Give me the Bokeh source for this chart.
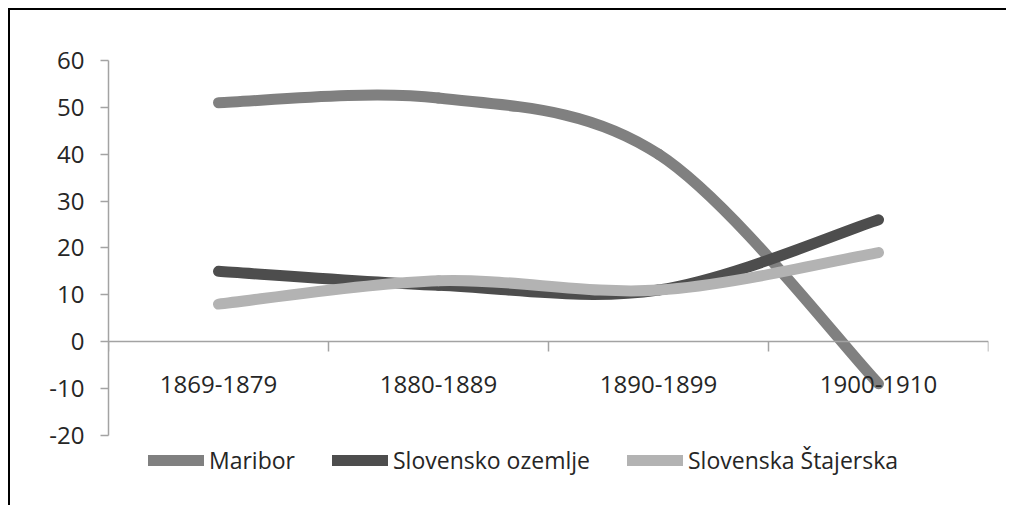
from bokeh.plotting import figure
from bokeh.models import (Range1d, LinearAxis, FixedTicker, Legend, LegendItem, ColumnDataSource)
from bokeh.embed import file_html
from bokeh.resources import INLINE

# ---- data ----
periods = ["1869-1879", "1880-1889", "1890-1899", "1900-1910"]
maribor = [51, 52, 40, -9]
slovensko_ozemlje = [15, 12, 11, 26]
slovenska_stajerska = [8, 13, 11, 19]
series_names = ["Maribor", "Slovensko ozemlje", "Slovenska Štajerska"]
y_ticks = [-20, -10, 0, 10, 20, 30, 40, 50, 60]

series_values = [maribor, slovensko_ozemlje, slovenska_stajerska]
series_colors = ["#808080", "#4d4d4d", "#b3b3b3"]

FONT = "Open Sans"
TEXT = "#262626"
AXIS = "#a3a3a3"

n_cat = len(periods)
centers = [i + 0.5 for i in range(n_cat)]


def smooth_segments(values):
    """Excel-like smoothed line: cubic bezier segments, control points at 1/6 of neighbour span."""
    n = len(values)
    pts = list(zip(centers, values))
    d = dict(x0=[], y0=[], x1=[], y1=[], cx0=[], cy0=[], cx1=[], cy1=[])
    for i in range(n - 1):
        pp = pts[i - 1] if i > 0 else pts[i]
        p0 = pts[i]
        p1 = pts[i + 1]
        pn = pts[i + 2] if i + 2 < n else pts[i + 1]
        d["x0"].append(p0[0]); d["y0"].append(p0[1])
        d["x1"].append(p1[0]); d["y1"].append(p1[1])
        d["cx0"].append(p0[0] + (p1[0] - pp[0]) / 6.0)
        d["cy0"].append(p0[1] + (p1[1] - pp[1]) / 6.0)
        d["cx1"].append(p1[0] - (pn[0] - p0[0]) / 6.0)
        d["cy1"].append(p1[1] - (pn[1] - p0[1]) / 6.0)
    return ColumnDataSource(d)


p = figure(width=998, height=497,
           x_range=Range1d(0, n_cat),
           y_range=Range1d(-32, 60),
           x_axis_location=None, y_axis_location=None,
           output_backend="svg", toolbar_location=None,
           min_border_left=98, min_border_top=50, min_border_right=20, min_border_bottom=16)
p.outline_line_color = None
p.grid.visible = False
p.styles = {"margin-left": "8px", "margin-top": "8px",
            "border-top": "2px solid #000000", "border-left": "2px solid #000000"}

# y axis
yax = LinearAxis(ticker=FixedTicker(ticks=y_ticks), bounds=(-20, 60),
                 major_label_overrides={t: str(t) for t in y_ticks},
                 axis_line_color=AXIS, axis_line_width=1.5,
                 major_tick_line_color=AXIS, major_tick_line_width=1.5,
                 major_tick_out=8, major_tick_in=0, minor_tick_line_color=None,
                 major_label_text_font=FONT, major_label_text_font_size="24px",
                 major_label_text_color=TEXT, major_label_standoff=16)
p.add_layout(yax, "left")

# category boundary ticks on the zero line
xnum = LinearAxis(ticker=FixedTicker(ticks=list(range(n_cat + 1))),
                  fixed_location=0, axis_line_color=AXIS, axis_line_width=1.5,
                  major_tick_line_color=AXIS, major_tick_line_width=1.5,
                  major_tick_out=10, major_tick_in=0, minor_tick_line_color=None,
                  major_label_text_color=None)
p.add_layout(xnum, "below")

# category labels
xcat = LinearAxis(ticker=FixedTicker(ticks=centers), fixed_location=0,
                  major_label_overrides={c: lab for c, lab in zip(centers, periods)},
                  axis_line_color=None, major_tick_line_color=None, minor_tick_line_color=None,
                  major_tick_out=0, major_tick_in=0,
                  major_label_text_font=FONT, major_label_text_font_size="24px",
                  major_label_text_color=TEXT, major_label_standoff=34)
p.add_layout(xcat, "below")

items = []
for name, vals, col in zip(series_names, series_values, series_colors):
    src = smooth_segments(vals)
    r = p.bezier(x0="x0", y0="y0", x1="x1", y1="y1", cx0="cx0", cy0="cy0", cx1="cx1", cy1="cy1",
                 source=src, line_color=col, line_width=11, line_cap="round")
    items.append(LegendItem(label=name, renderers=[r]))

legend = Legend(items=items, location=(40, 15), orientation="horizontal",
                glyph_width=56, glyph_height=26, label_height=26, label_standoff=5,
                spacing=37, padding=0, margin=0,
                border_line_color=None, background_fill_alpha=0,
                label_text_font=FONT, label_text_font_size="23px", label_text_color=TEXT)
p.add_layout(legend)

open("out.html", "w").write(file_html(p, INLINE))
